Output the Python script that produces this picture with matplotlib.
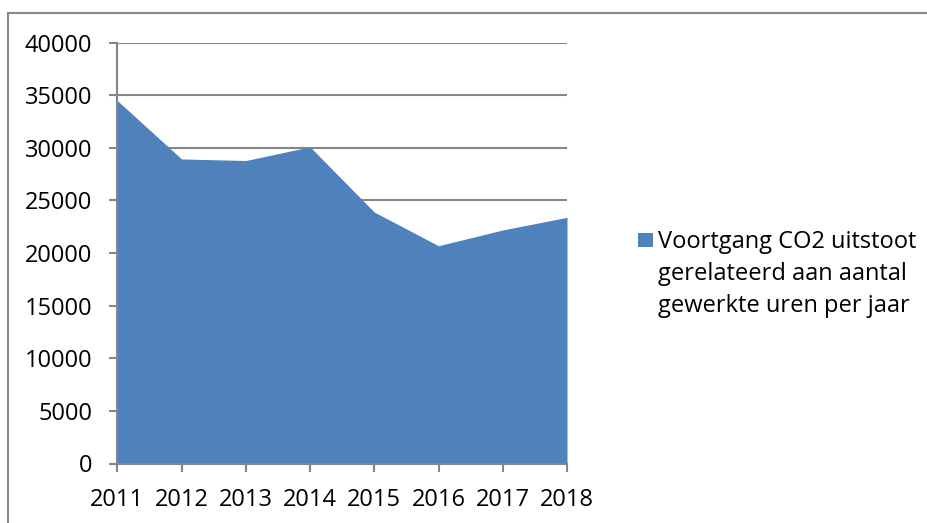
import matplotlib
matplotlib.use("Agg")
import matplotlib.pyplot as plt
from matplotlib.lines import Line2D
from matplotlib.patches import Rectangle

years = [2011, 2012, 2013, 2014, 2015, 2016, 2017, 2018]
values = [34500, 28950, 28800, 30100, 23900, 20700, 22200, 23400]
yticks = [0, 5000, 10000, 15000, 20000, 25000, 30000, 35000, 40000]
series_label = "Voortgang CO2 uitstoot\ngerelateerd aan aantal\ngewerkte uren per jaar"

plt.rcParams['font.family'] = ['Open Sans', 'DejaVu Sans']

W, H = 928, 523
fig = plt.figure(figsize=(W / 100, H / 100), dpi=100)
ax = fig.add_axes([117.3 / W, 1 - 463.5 / H, (567 - 117.3) / W, (463.5 - 42.7) / H])

fill_color = '#4F81BD'
grid_color = '#868686'
fs = 17

ax.fill_between(years, values, 0, color=fill_color, linewidth=0, zorder=2)

ax.set_xlim(years[0], years[-1])
ax.set_ylim(0, 40000)
ax.set_yticks(yticks)
ax.set_yticklabels([str(v) for v in yticks])
ax.set_xticks(years)
ax.set_xticklabels([str(y) for y in years])

ax.yaxis.grid(True, color=grid_color, linewidth=1.5, zorder=1)
ax.set_axisbelow(True)
for s in ['top', 'right']:
    ax.spines[s].set_visible(False)
for s in ['left', 'bottom']:
    ax.spines[s].set_color(grid_color)
    ax.spines[s].set_linewidth(1.5)
    ax.spines[s].set_zorder(3)

ax.tick_params(axis='both', colors=grid_color, length=6, width=1.5, labelcolor='black', labelsize=fs)
ax.tick_params(axis='y', pad=12)
ax.tick_params(axis='x', pad=12)

# legend: square marker + three text lines
fig.add_artist(Rectangle((637.7 / W, 1 - 246.7 / H), 15 / W, 14 / H,
                         transform=fig.transFigure, facecolor=fill_color, edgecolor='none'))
for i, line in enumerate(series_label.split('\n')):
    fig.text(658 / W, 1 - (247.7 + 32 * i) / H, line, fontsize=fs,
             ha='left', va='baseline', color='black')

# outer chart border (left and top visible)
fig.add_artist(Line2D([8 / W, 8 / W], [0, 1 - 13 / H], transform=fig.transFigure,
                      color='#878787', linewidth=1.5))
fig.add_artist(Line2D([8 / W, 1], [1 - 13 / H, 1 - 13 / H], transform=fig.transFigure,
                      color='#878787', linewidth=1.5))

fig.savefig('out.png', dpi=100)
